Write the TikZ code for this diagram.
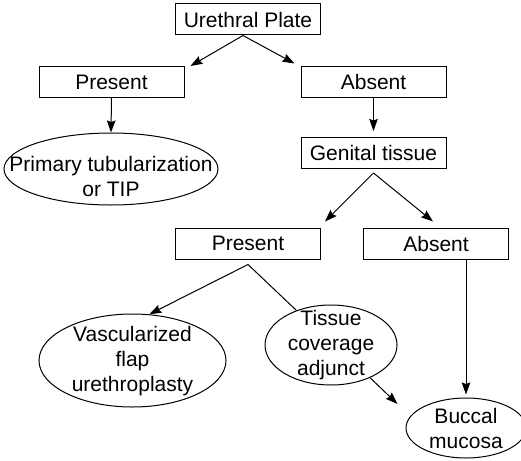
\documentclass[tikz,border=0pt]{standalone}
\usepackage{fontspec}
\setsansfont{Liberation Sans}
\usepackage{tikz}
\usetikzlibrary{arrows.meta}
\usetikzlibrary{calc, positioning, shapes.geometric}
\tikzstyle{box}=[rectangle, draw, minimum width=145pt, minimum height=31pt, inner sep=0pt]
\tikzstyle{oval}=[ellipse, draw, inner sep=0pt]

\begin{document}
\begin{tikzpicture}[x=1pt, y=-1pt]

\tikzset{>={Stealth[length=12pt, width=8.5pt, inset=1.5pt]}}
\tikzset{every node/.style={font=\sffamily\fontsize{21pt}{25pt}\selectfont}}
\tikzset{every path/.style={line width=1pt}}

\useasboundingbox (0,0) rectangle (521,460);

% Boxes
\node[box] (plate) at (248,19.5) {Urethral Plate};
\node[box] (pres1) at (111.5,82) {Present};
\node[box] (abs1) at (373.5,82) {Absent};
\node[box] (gen) at (373.5,153) {Genital tissue};
\node[box] (pres2) at (248,243.5) {Present};
\node[box] (abs2) at (436,243.5) {Absent};

% Ovals
\node[oval, minimum width=214pt, minimum height=72pt,
  label={[align=center, yshift=-7pt]center:Primary tubularization\\or TIP}] (prim) at (111,169) {};
\node[oval, minimum width=187pt, minimum height=93pt,
  label={[align=center, yshift=-1pt]center:Vascularized\\flap\\urethroplasty}] (vasc) at (132.5,360.5) {};
\node[oval, minimum width=132pt, minimum height=80pt,
  label={[align=center]center:Tissue\\coverage\\adjunct}] (tissue) at (331,345) {};
\node[oval, minimum width=120pt, minimum height=60pt,
  label={[align=center]center:Buccal\\mucosa}] (buccal) at (466,428) {};

% Arrows
\draw[->] ([xshift=-5pt]plate.south) -- ([xshift=6pt]pres1.north east); % plate -> present
\draw[->] ([xshift=-5pt]plate.south) -- ([xshift=-6pt, yshift=2.5pt]abs1.north west); % plate -> absent
\draw[->] (pres1.south) -- (prim.north); % present -> primary
\draw[->] (abs1.south) -- ([yshift=6pt]gen.north); % absent -> genital
\draw[->] ([yshift=-4pt]gen.south) -- ([xshift=4pt, yshift=6pt]pres2.north east); % genital -> present
\draw[->] ([yshift=-4pt]gen.south) -- ([xshift=-3pt, yshift=6pt]abs2.north); % genital -> absent
\draw[->] ([yshift=-5pt]pres2.south) -- (vasc.70); % present -> flap
\draw ([yshift=-5pt]pres2.south) -- (tissue.135); % present -- tissue
\draw[->] (tissue.-40) -- ([xshift=-8pt, yshift=24pt]buccal.west); % tissue -> buccal
\draw[->] (abs2.south -| buccal.north) -- ([yshift=3pt]buccal.north); % absent -> buccal

\end{tikzpicture}
\end{document}
